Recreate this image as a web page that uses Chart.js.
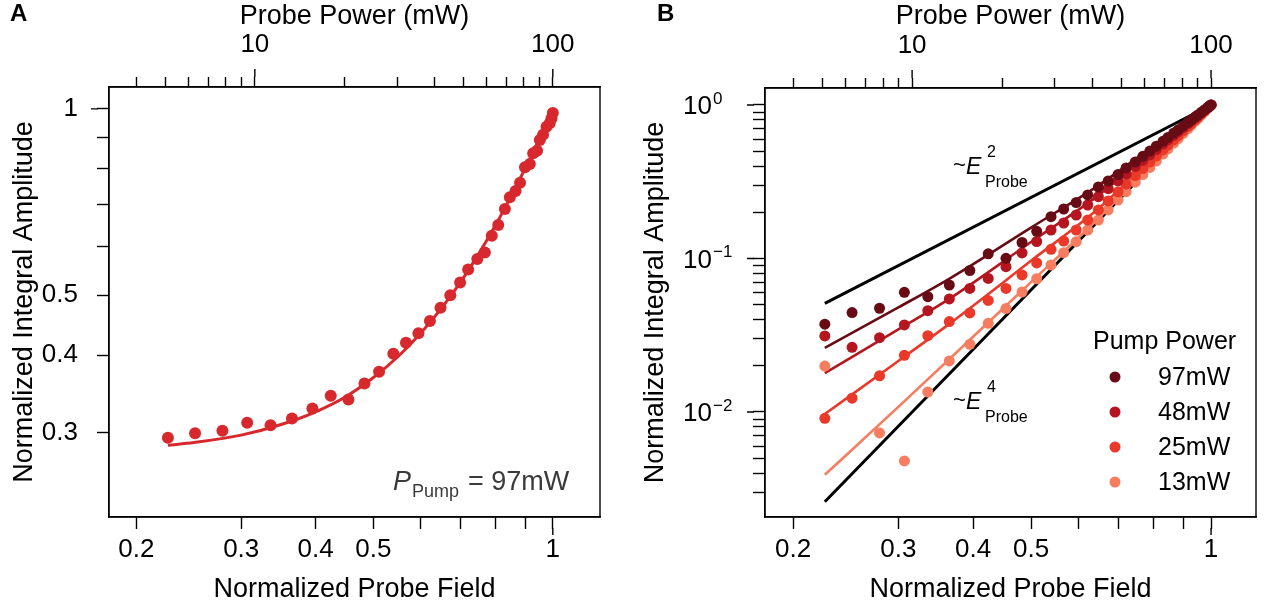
<!DOCTYPE html>
<html>
<head>
<meta charset="utf-8">
<title>Normalized integral amplitude vs probe field</title>
<script src="https://cdn.jsdelivr.net/npm/chart.js@4.4.0/dist/chart.umd.min.js"></script>
<style>
  html, body { margin: 0; padding: 0; background: #fff; }
  #wrap { position: relative; width: 1271px; height: 614px; }
  canvas { position: absolute; top: 0; }
  #panelA { left: 0; }
  #panelB { left: 635px; }
</style>
</head>
<body>
<div id="wrap">
  <canvas id="panelA" width="635" height="614"></canvas>
  <canvas id="panelB" width="636" height="614"></canvas>
</div>
<script>
// probe field sweep (same for both panels)
var probeField = [0.226, 0.251, 0.279, 0.307, 0.336, 0.365, 0.395, 0.424, 0.454, 0.483, 0.511, 0.540, 0.567,
  0.595, 0.622, 0.648, 0.673, 0.699, 0.721, 0.747, 0.769, 0.790, 0.810, 0.831, 0.847, 0.866, 0.881, 0.898,
  0.915, 0.927, 0.941, 0.951, 0.963, 0.976, 0.988, 0.995, 1.000];

// panel A: 97mW pump
var ampA = [0.294, 0.299, 0.302, 0.311, 0.308, 0.316, 0.328, 0.344, 0.339, 0.360, 0.376, 0.402, 0.419,
  0.434, 0.454, 0.477, 0.500, 0.524, 0.550, 0.572, 0.586, 0.624, 0.649, 0.689, 0.720, 0.737, 0.760, 0.805,
  0.815, 0.848, 0.856, 0.891, 0.908, 0.936, 0.948, 0.966, 0.985];
var fitAX = [0.226, 0.25, 0.3, 0.35, 0.4, 0.45, 0.5, 0.55, 0.6, 0.65, 0.7, 0.75, 0.8, 0.85, 0.9, 0.95, 1.0];
var fitAY = [0.286, 0.289, 0.297, 0.309, 0.324, 0.343, 0.368, 0.398, 0.434, 0.476, 0.525, 0.582, 0.647,
  0.721, 0.804, 0.897, 1.0];

// panel B: four pump powers
var pumpLabels = ['97mW', '48mW', '25mW', '13mW'];
var pumpColors = ['#670b15', '#b4151f', '#ea3829', '#f67d5f'];
var amp97 = [0.0373, 0.0444, 0.0474, 0.0602, 0.0564, 0.0672, 0.0835, 0.1073, 0.1003, 0.1271, 0.1504, 0.1872,
  0.2101, 0.2316, 0.2593, 0.2922, 0.3197, 0.3525, 0.3887, 0.4252, 0.4632, 0.5007, 0.5391, 0.5801, 0.6141,
  0.6561, 0.6894, 0.7297, 0.7702, 0.8008, 0.8368, 0.8619, 0.8951, 0.9304, 0.966, 0.985, 1.0];
var amp48 = [0.0313, 0.0264, 0.0305, 0.0369, 0.0457, 0.0545, 0.0638, 0.0741, 0.0884, 0.1086, 0.129, 0.1533,
  0.1703, 0.192, 0.2231, 0.2527, 0.2849, 0.3207, 0.3547, 0.3975, 0.4355, 0.4737, 0.5129, 0.5563, 0.5916,
  0.6349, 0.67, 0.7125, 0.7554, 0.7867, 0.8254, 0.8531, 0.8881, 0.9278, 0.9646, 0.985, 1.0];
var amp25 = [0.0091, 0.0123, 0.0172, 0.0234, 0.0314, 0.0388, 0.0442, 0.0533, 0.0638, 0.0781, 0.0935, 0.1148,
  0.130, 0.1533, 0.1781, 0.207, 0.2372, 0.272, 0.3048, 0.3472, 0.3857, 0.4246, 0.4654, 0.5098, 0.5472,
  0.5934, 0.631, 0.6771, 0.7244, 0.7588, 0.8022, 0.8326, 0.8724, 0.9152, 0.9574, 0.982, 1.0];
var amp13 = [0.0199, null, 0.0073, 0.0048, 0.0135, 0.0215, 0.0276, 0.0378, 0.0472, 0.0605, 0.0738, 0.0907,
  0.1091, 0.1286, 0.1533, 0.1781, 0.207, 0.2401, 0.2723, 0.3141, 0.352, 0.3916, 0.4323, 0.4787, 0.5168,
  0.5647, 0.604, 0.6523, 0.7021, 0.7399, 0.7854, 0.8178, 0.8607, 0.9085, 0.9532, 0.981, 1.0];
var fitBX = [0.226, 0.3, 0.366, 0.5, 0.644, 0.8, 1];
var fit97 = [0.0262, 0.048, 0.0743, 0.159, 0.294, 0.537, 1];
var fit48 = [0.0179, 0.0345, 0.055, 0.128, 0.253, 0.502, 1];
var fit25 = [0.0097, 0.0215, 0.0378, 0.0967, 0.207, 0.455, 1];
var fit13 = [0.0039, 0.0108, 0.0223, 0.0701, 0.178, 0.422, 1];
// guide lines ~E^2 and ~E^4
var guideX = [0.226, 1];
var guideE2 = [0.051, 1];
var guideE4 = [0.0026, 1];

// ticks
var fieldTicks = [0.2, 0.3, 0.4, 0.5, 0.6, 0.7, 0.8, 0.9, 1];
var fieldLabels = [0.2, 0.3, 0.4, 0.5, 1];
var powerTicks = [4, 5, 6, 7, 8, 9, 10, 20, 30, 40, 50, 60, 70, 80, 90, 100];
var powerLabels = [10, 100];
var ampATicks = [0.3, 0.4, 0.5, 0.6, 0.7, 0.8, 0.9, 1];
var ampALabels = [0.3, 0.4, 0.5, 1];
var ampBTicks = [0.003, 0.004, 0.005, 0.006, 0.007, 0.008, 0.009, 0.01, 0.02, 0.03, 0.04, 0.05, 0.06, 0.07,
  0.08, 0.09, 0.1, 0.2, 0.3, 0.4, 0.5, 0.6, 0.7, 0.8, 0.9, 1];
var ampBDecades = [1, 0.1, 0.01];
var ampBExponents = ['0', '\u22121', '\u22122'];

var FONT = '"Liberation Sans", Arial, Helvetica, sans-serif';
var RED_A = '#d6282d';

function pairs(xs, ys) {
  return xs.map(function (x, i) { return {x: x, y: ys[i]}; });
}

function axis(position, min, max, ticks, labels, size, tickLen, labelPad, title, titlePad) {
  return {
    type: 'logarithmic',
    position: position,
    min: min,
    max: max,
    bounds: 'data',
    afterBuildTicks: function (s) {
      s.ticks = ticks.map(function (v) { return {value: v}; });
    },
    afterFit: function (s) {
      if (s.isHorizontal()) s.height = size; else s.width = size;
    },
    ticks: {
      autoSkip: false, maxRotation: 0, minRotation: 0,
      padding: labelPad,
      color: '#000',
      font: {family: FONT, size: 26},
      callback: function (v) { return labels.indexOf(v) >= 0 ? String(v) : ''; }
    },
    grid: {drawOnChartArea: false, tickLength: tickLen, tickColor: '#000', tickWidth: 1.4},
    border: {display: true, color: '#000', width: 1.4},
    title: title ? {display: true, text: title, color: '#000', font: {family: FONT, size: 27}, padding: titlePad}
                 : {display: false}
  };
}

// box + longer major ticks + panel letter
function frame(chart, majors, letter, letterX) {
  var ctx = chart.ctx, a = chart.chartArea, s = chart.scales;
  ctx.save();
  ctx.strokeStyle = '#000';
  ctx.lineWidth = 1.4;
  ctx.strokeRect(a.left, a.top, a.right - a.left, a.bottom - a.top);
  ctx.beginPath();
  majors.x.forEach(function (v) {
    var p = s.x.getPixelForValue(v); ctx.moveTo(p, a.bottom + 11); ctx.lineTo(p, a.bottom + 18);
  });
  majors.x2.forEach(function (v) {
    var p = s.x2.getPixelForValue(v); ctx.moveTo(p, a.top - 10); ctx.lineTo(p, a.top - 18);
  });
  majors.y.forEach(function (v) {
    var p = s.y.getPixelForValue(v); ctx.moveTo(a.left - 11, p); ctx.lineTo(a.left - 18, p);
  });
  ctx.stroke();
  ctx.fillStyle = '#000';
  ctx.font = 'bold 24px ' + FONT;
  ctx.textBaseline = 'alphabetic';
  ctx.textAlign = 'left';
  ctx.fillText(letter, letterX, 21);
  ctx.restore();
}

// pieces of text placed at offsets from (x, y): {t, size, dx, dy, italic}
function richText(ctx, x, y, parts, color) {
  ctx.fillStyle = color;
  ctx.textBaseline = 'alphabetic';
  ctx.textAlign = 'left';
  parts.forEach(function (p) {
    ctx.font = (p.italic ? 'italic ' : '') + p.size + 'px ' + FONT;
    ctx.fillText(p.t, x + p.dx, y + p.dy);
  });
}

var extrasA = {
  id: 'extrasA',
  afterDraw: function (chart) {
    frame(chart, {x: [1], x2: [10, 100], y: [1]}, 'A', 10);
    var ctx = chart.ctx;
    ctx.save();
    richText(ctx, 393, 490, [
      {t: 'P', size: 27, dx: 0, dy: 0, italic: true},
      {t: 'Pump', size: 18, dx: 19, dy: 7},
      {t: '= 97mW', size: 27, dx: 75, dy: 0}
    ], '#3a3a3a');
    ctx.restore();
  }
};

var extrasB = {
  id: 'extrasB',
  afterDraw: function (chart) {
    frame(chart, {x: [1], x2: [10, 100], y: ampBDecades}, 'B', 22);
    var ctx = chart.ctx, ys = chart.scales.y;
    ctx.save();
    // y tick labels 10^n
    ampBDecades.forEach(function (v, i) {
      var p = ys.getPixelForValue(v);
      ctx.fillStyle = '#000';
      ctx.font = '26px ' + FONT;
      ctx.textAlign = 'right';
      ctx.textBaseline = 'middle';
      ctx.fillText('10', 77, p + 2);
      ctx.font = '17px ' + FONT;
      ctx.textAlign = 'left';
      ctx.textBaseline = 'alphabetic';
      ctx.fillText(ampBExponents[i], 78, p - 1);
    });
    // ~E^2 and ~E^4 annotations
    [[174, '2'], [409, '4']].forEach(function (g) {
      richText(ctx, 318, g[0], [
        {t: '~', size: 22, dx: 0, dy: -2},
        {t: 'E', size: 23, dx: 13, dy: 0, italic: true},
        {t: g[1], size: 16, dx: 34, dy: -17},
        {t: 'Probe', size: 16, dx: 32, dy: 13}
      ], '#000');
    });
    // legend
    ctx.fillStyle = '#000';
    ctx.font = '25px ' + FONT;
    ctx.textAlign = 'left';
    ctx.textBaseline = 'middle';
    ctx.fillText('Pump Power', 1093 - 635, 342);
    pumpLabels.forEach(function (lab, i) {
      var y = 377 + i * 35;
      ctx.beginPath();
      ctx.arc(1115 - 635, y, 5.5, 0, 2 * Math.PI);
      ctx.fillStyle = pumpColors[i];
      ctx.fill();
      ctx.fillStyle = '#000';
      ctx.fillText(lab, 1158 - 635, y + 1);
    });
    ctx.restore();
  }
};

Chart.defaults.font.family = FONT;
Chart.defaults.animation = false;

var chartA = new Chart('panelA', {
  type: 'scatter',
  data: {
    datasets: [{
      data: pairs(probeField, ampA),
      pointRadius: 6, pointBorderWidth: 0, pointBackgroundColor: RED_A, backgroundColor: RED_A
    }, {
      data: pairs(fitAX, fitAY),
      showLine: true, pointRadius: 0, borderColor: RED_A, borderWidth: 3,
      cubicInterpolationMode: 'monotone', fill: false
    }]
  },
  options: {
    responsive: false,
    layout: {padding: {left: 0, right: 35, top: 0, bottom: 0}},
    plugins: {legend: {display: false}, tooltip: {enabled: false}},
    scales: {
      x: axis('bottom', 0.18, 1.2, fieldTicks, fieldLabels, 97, 12, 5, 'Normalized Probe Field', {top: 0, bottom: 8}),
      x2: axis('top', 3.24, 144, powerTicks, powerLabels, 87, 10, 17, 'Probe Power (mW)', {top: 0, bottom: 0}),
      y: axis('left', 0.219, 1.085, ampATicks, ampALabels, 109, 12, 19, 'Normalized Integral Amplitude', {top: 8, bottom: 0})
    }
  },
  plugins: [extrasA]
});

var dotSets = [amp97, amp48, amp25, amp13].map(function (ys, i) {
  return {
    data: pairs(probeField, ys),
    pointRadius: 5.5, pointBorderWidth: 0,
    pointBackgroundColor: pumpColors[i], backgroundColor: pumpColors[i]
  };
});
var fitSets = [fit97, fit48, fit25, fit13].map(function (ys, i) {
  return {
    data: pairs(fitBX, ys),
    showLine: true, pointRadius: 0, borderColor: pumpColors[i], borderWidth: 2.6,
    cubicInterpolationMode: 'monotone', fill: false
  };
});
var guideSets = [guideE2, guideE4].map(function (ys) {
  return {
    data: pairs(guideX, ys),
    showLine: true, pointRadius: 0, borderColor: '#000', borderWidth: 3, tension: 0, fill: false
  };
});

var chartB = new Chart('panelB', {
  type: 'scatter',
  data: {datasets: dotSets.concat(fitSets, guideSets)},
  options: {
    responsive: false,
    layout: {padding: {left: 0, right: 15, top: 0, bottom: 0}},
    plugins: {legend: {display: false}, tooltip: {enabled: false}},
    scales: {
      x: axis('bottom', 0.1795, 1.189, fieldTicks, fieldLabels, 97, 12, 5, 'Normalized Probe Field', {top: 0, bottom: 8}),
      x2: axis('top', 3.22, 141.4, powerTicks, powerLabels, 88, 10, 17, 'Probe Power (mW)', {top: 0, bottom: 0}),
      y: axis('left', 0.00207, 1.29, ampBTicks, [], 130, 12, 19, 'Normalized Integral Amplitude', {top: 4, bottom: 0})
    }
  },
  plugins: [extrasB]
});
</script>
</body>
</html>
